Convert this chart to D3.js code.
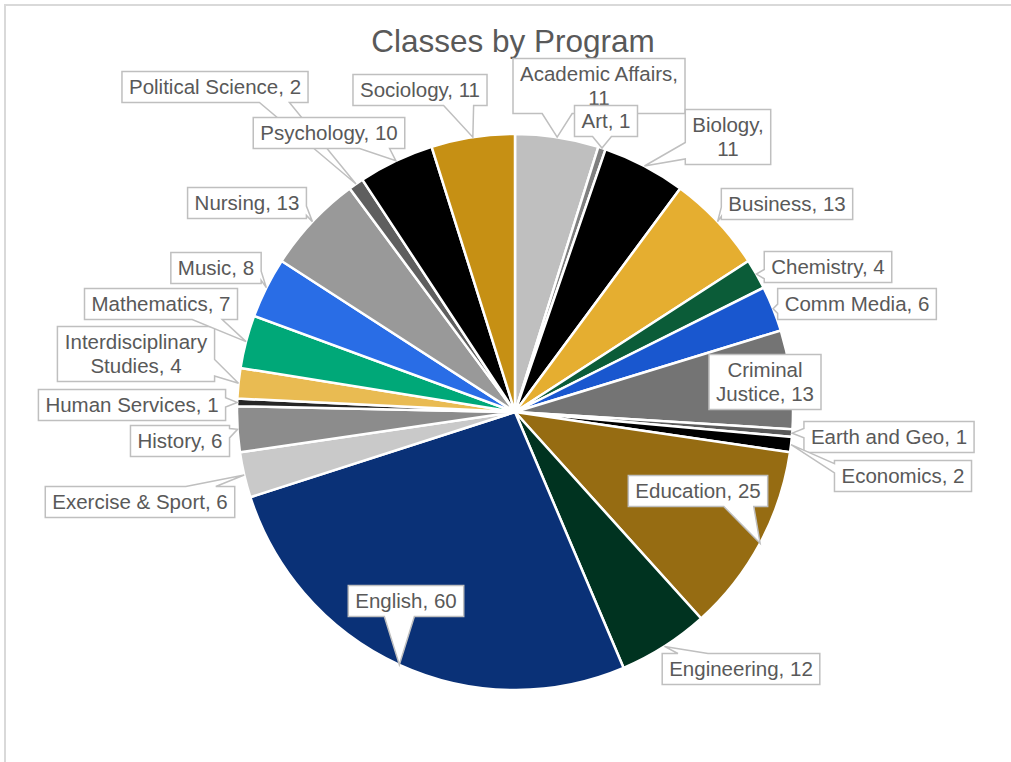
<!DOCTYPE html>
<meta charset="utf-8">
<style>
	body {
		margin: 0;
		background: #fff;
	}

	text {
		font-family: "Liberation Sans", Arial, sans-serif;
		fill: #595959;
	}

	.slices path {
		stroke: #fff;
		stroke-width: 2.5px;
	}

	.callouts path {
		fill: #fff;
		stroke: #bfbfbf;
		stroke-width: 1.5px;
	}
</style>
<svg width="1011" height="762"></svg>
<script src="https://cdn.jsdelivr.net/npm/d3@7"></script>
<script>

	// chart data, in the order the slices run clockwise from 12 o'clock
	var programs = ["Academic Affairs", "Art", "Biology", "Business", "Chemistry", "Comm Media",
		"Criminal Justice", "Earth and Geo", "Economics", "Education", "Engineering", "English",
		"Exercise & Sport", "History", "Human Services", "Interdisciplinary Studies", "Mathematics",
		"Music", "Nursing", "Political Science", "Psychology", "Sociology"];

	var classes = [11, 1, 11, 13, 4, 6, 13, 1, 2, 25, 12, 60, 6, 6, 1, 4, 7, 8, 13, 2, 10, 11];

	var sliceColors = ["#bfbfbf", "#7f7f7f", "#000000", "#e5ae30", "#0b5c38", "#1957cf",
		"#747474", "#5a5a5a", "#000000", "#966c12", "#003320", "#0a3177",
		"#c9c9c9", "#8c8c8c", "#262626", "#e9bb52", "#00a878",
		"#296de6", "#999999", "#5f5f5f", "#000000", "#c69014"];

	// how each callout text is broken into lines
	var labelLines = [["Academic Affairs,", "11"], null, ["Biology,", "11"], null, null, null,
		["Criminal", "Justice, 13"], null, null, null, null, null,
		null, null, null, ["Interdisciplinary", "Studies, 4"], null,
		null, null, null, null, null];

	// layout: where each callout box sits (box centre), placed by hand like in the original
	var labelCenters = [[599, 86], [606, 121], [728, 137], [787, 204], [828, 267], [857, 304],
		[765, 382], [889, 437], [903, 476], [698, 491], [741, 669], [406, 601],
		[140, 502], [180, 441], [132, 405], [136, 354], [161, 304],
		[216, 268], [247, 203], [215, 87], [329, 133], [420, 90]];

	var svg = d3.select("svg"),
		width = +svg.attr("width"),
		height = +svg.attr("height");

	var cx = 515,
		cy = 412,
		radius = 278;

	var data = programs.map(function (p, i) {
		return { program: p, value: classes[i], color: sliceColors[i], lines: labelLines[i] || [p + ", " + classes[i]], center: labelCenters[i] };
	});

	// chart frame
	svg.append("rect")
		.attr("x", 5)
		.attr("y", 5)
		.attr("width", width + 20)
		.attr("height", height + 20)
		.attr("fill", "none")
		.attr("stroke", "#d9d9d9")
		.attr("stroke-width", 2);

	svg.append("text")
		.attr("x", 513)
		.attr("y", 52)
		.attr("text-anchor", "middle")
		.style("font-size", "31.5px")
		.text("Classes by Program");

	var pie = d3.pie()
		.sort(null)
		.value(function (d) { return d.value; });

	var arc = d3.arc()
		.innerRadius(0)
		.outerRadius(radius);

	var arcs = pie(data);

	var g = svg.append("g")
		.attr("transform", "translate(" + cx + "," + cy + ")");

	g.append("g")
		.attr("class", "slices")
		.selectAll("path")
		.data(arcs)
		.enter().append("path")
		.attr("d", arc)
		.attr("fill", function (d) { return d.data.color; });

	// callouts: box with a wedge pointing at the middle of the slice rim
	var callouts = svg.append("g")
		.attr("class", "callouts");

	var lineH = 24,
		padX = 7,
		fontSize = 20.5;

	arcs.forEach(function (d) {
		var mid = (d.startAngle + d.endAngle) / 2;
		var ax = cx + radius * Math.sin(mid),
			ay = cy - radius * Math.cos(mid);

		var lab = callouts.append("g");
		var path = lab.append("path");
		var txt = lab.append("text")
			.attr("text-anchor", "middle")
			.style("font-size", fontSize + "px");

		var n = d.data.lines.length;
		var h = n * lineH + 7;
		var c = d.data.center;
		var y0 = c[1] - h / 2;

		d.data.lines.forEach(function (line, i) {
			txt.append("tspan")
				.attr("x", c[0])
				.attr("y", y0 + 3.5 + lineH * i + 18.5)
				.text(line);
		});

		var tw = txt.node().getBBox().width;
		var w = tw + padX * 2;
		var x0 = c[0] - w / 2,
			x1 = x0 + w,
			y1 = y0 + h;

		path.attr("d", calloutPath(x0, y0, x1, y1, ax, ay));
	});

	function calloutPath(x0, y0, x1, y1, ax, ay) {
		var corners = [[x0, y0], [x1, y0], [x1, y1], [x0, y1]];
		var over = [y0 - ay, ax - x1, ay - y1, x0 - ax]; // top, right, bottom, left
		var side = -1, best = 0;
		over.forEach(function (o, i) {
			if (o > best) { best = o; side = i; }
		});

		var pts = [];
		for (var i = 0; i < 4; i++) {
			var p = corners[i], q = corners[(i + 1) % 4];
			pts.push(p);
			if (i === side) {
				var len = Math.hypot(q[0] - p[0], q[1] - p[1]);
				var ux = (q[0] - p[0]) / len, uy = (q[1] - p[1]) / len;
				var bw = Math.min(len * 0.3, 30);
				// projection of the anchor on this side
				var t = (ax - p[0]) * ux + (ay - p[1]) * uy;
				var lo = len * 0.1 + bw / 2, hi = len * 0.9 - bw / 2;
				t = Math.max(lo, Math.min(hi, t));
				pts.push([p[0] + ux * (t - bw / 2), p[1] + uy * (t - bw / 2)]);
				pts.push([ax, ay]);
				pts.push([p[0] + ux * (t + bw / 2), p[1] + uy * (t + bw / 2)]);
			}
		}
		return "M" + pts.map(function (p) { return p[0] + "," + p[1]; }).join("L") + "Z";
	}

</script>
